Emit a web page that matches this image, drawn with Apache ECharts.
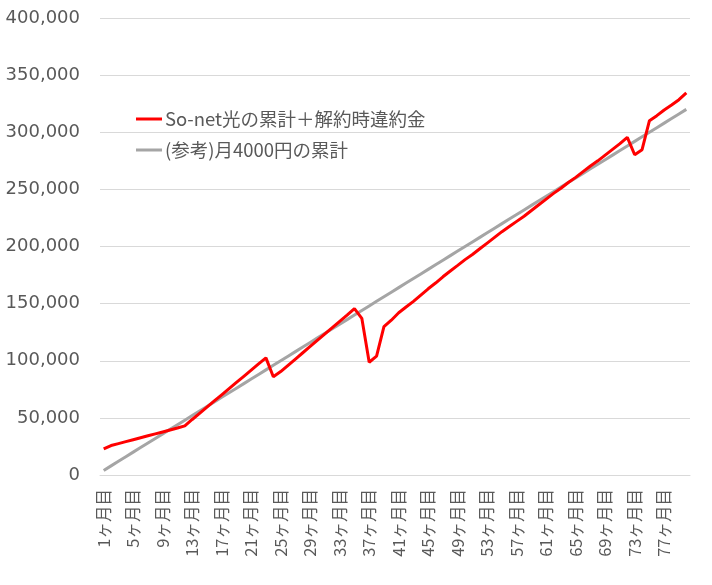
<!DOCTYPE html>
<html>
<head>
<meta charset="utf-8">
<script src="https://cdn.jsdelivr.net/npm/echarts@6/dist/echarts.min.js"></script>
<style>
html,body{margin:0;padding:0;background:#fff;}
#chart{width:712px;height:585px;}
</style>
</head>
<body>
<div id="chart"></div>
<script>
var categories = [];
for (var m = 1; m <= 80; m++) { categories.push(m + 'ヶ月目'); }

var seriesNames = ['So-net光の累計＋解約時違約金', '(参考)月4000円の累計'];

var sonetTotal = [
  22800, 25800, 27500, 29200, 30900, 32600, 34300, 36000, 37700, 39400,
  41100, 43000, 48600, 54000, 59400, 64800, 70200, 75600, 81000, 86400,
  91800, 97200, 102500, 86000, 90500, 96000, 101500, 107000, 112500, 118000,
  123500, 129000, 134500, 140000, 145600, 137100, 98700, 104000, 129800, 135500,
  142000, 147000, 152000, 157500, 163000, 168000, 173500, 178600, 183500, 188500,
  193000, 198000, 203000, 208000, 213000, 217500, 222000, 226500, 231500, 236500,
  241500, 246500, 251000, 256000, 260500, 265500, 270500, 275000, 280000, 285000,
  290000, 295500, 280300, 284700, 310100, 314500, 319500, 323800, 328500, 334400
];

var reference4000 = [
  4000, 8000, 12000, 16000, 20000, 24000, 28000, 32000, 36000, 40000,
  44000, 48000, 52000, 56000, 60000, 64000, 68000, 72000, 76000, 80000,
  84000, 88000, 92000, 96000, 100000, 104000, 108000, 112000, 116000, 120000,
  124000, 128000, 132000, 136000, 140000, 144000, 148000, 152000, 156000, 160000,
  164000, 168000, 172000, 176000, 180000, 184000, 188000, 192000, 196000, 200000,
  204000, 208000, 212000, 216000, 220000, 224000, 228000, 232000, 236000, 240000,
  244000, 248000, 252000, 256000, 260000, 264000, 268000, 272000, 276000, 280000,
  284000, 288000, 292000, 296000, 300000, 304000, 308000, 312000, 316000, 320000
];

var yTicks = { min: 0, max: 400000, interval: 50000 };

var chart = echarts.init(document.getElementById('chart'), null, { renderer: 'canvas' });
chart.setOption({
  animation: false,
  backgroundColor: '#ffffff',
  grid: { left: 100, right: 22, top: 18, bottom: 110, containLabel: false },
  legend: {
    orient: 'vertical',
    left: 136,
    top: 109,
    padding: 0,
    icon: 'rect',
    itemWidth: 26,
    itemHeight: 3,
    itemGap: 11,
    data: seriesNames,
    textStyle: { fontFamily: 'Noto Sans CJK JP', fontSize: 18.5, color: '#595959', lineHeight: 20, padding: [0, 0, 0, -2] }
  },
  xAxis: {
    type: 'category',
    data: categories,
    boundaryGap: true,
    axisLine: { show: true, lineStyle: { color: '#d9d9d9', width: 1 } },
    axisTick: { show: false },
    axisLabel: {
      interval: 3,
      rotate: 90,
      margin: 14,
      color: '#595959',
      fontFamily: 'Noto Sans CJK JP',
      fontSize: 16.5
    },
    splitLine: { show: false }
  },
  yAxis: {
    type: 'value',
    min: yTicks.min,
    max: yTicks.max,
    interval: yTicks.interval,
    axisLine: { show: false },
    axisTick: { show: false },
    axisLabel: {
      margin: 20,
      color: '#595959',
      fontFamily: 'DejaVu Sans',
      fontSize: 18,
      formatter: function (v) { return v.toLocaleString('en-US'); }
    },
    splitLine: { lineStyle: { color: '#d9d9d9', width: 1 } }
  },
  series: [
    {
      name: seriesNames[0],
      type: 'line',
      data: sonetTotal,
      symbol: 'none',
      showSymbol: false,
      lineStyle: { color: '#ff0000', width: 3 },
      itemStyle: { color: '#ff0000' },
      z: 3
    },
    {
      name: seriesNames[1],
      type: 'line',
      data: reference4000,
      symbol: 'none',
      showSymbol: false,
      lineStyle: { color: '#a5a5a5', width: 3 },
      itemStyle: { color: '#a5a5a5' },
      z: 2
    }
  ]
});
</script>
</body>
</html>
